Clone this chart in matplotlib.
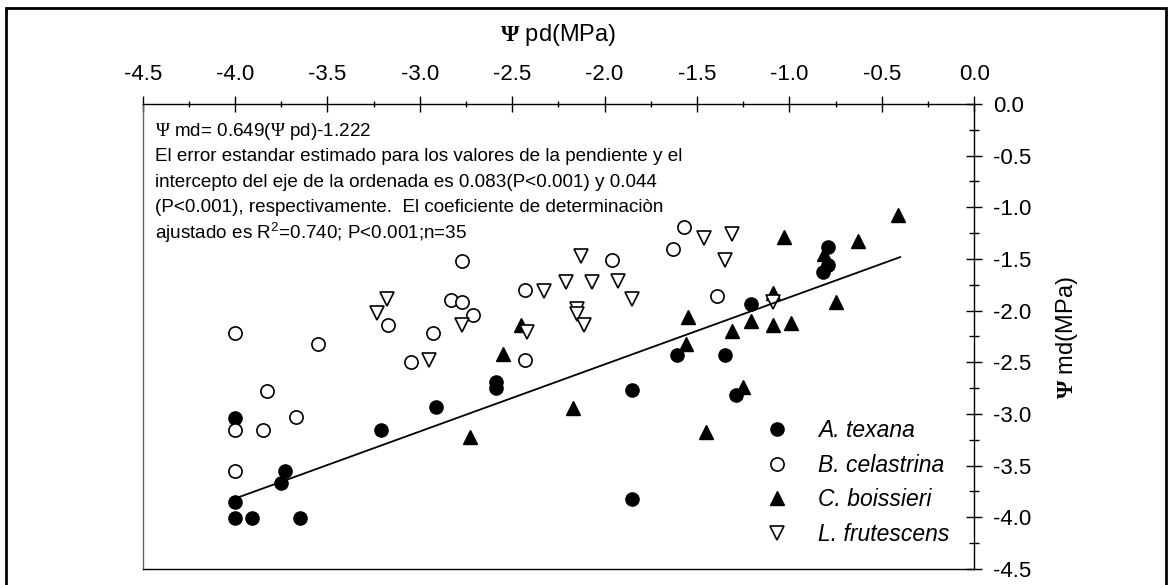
import matplotlib.pyplot as plt
from matplotlib.patches import Rectangle
from matplotlib.ticker import MultipleLocator, FormatStrFormatter

plt.rcParams['font.family'] = 'Liberation Sans'
plt.rcParams['mathtext.fontset'] = 'custom'
plt.rcParams['mathtext.rm'] = 'Liberation Serif'
plt.rcParams['mathtext.bf'] = 'Liberation Serif:bold'
plt.rcParams['mathtext.sf'] = 'Liberation Sans'

# Psi pd (x) and Psi md (y) per species, MPa
texana_pd = [-4.0, -3.21, -2.91, -3.73, -3.75, -4.0, -4.0, -3.91, -3.65, -2.59,
             -2.59, -1.85, -1.61, -1.85, -0.79, -0.79, -0.82, -1.21, -1.35, -1.29]
texana_md = [-3.04, -3.16, -2.93, -3.55, -3.67, -3.85, -4.01, -4.01, -4.01, -2.69,
             -2.75, -2.77, -2.43, -3.82, -1.38, -1.56, -1.63, -1.94, -2.43, -2.82]

celastrina_pd = [-4.0, -3.55, -3.17, -2.93, -3.05, -3.83, -3.67, -4.0, -3.85, -4.0,
                 -2.77, -2.83, -2.77, -2.71, -2.43, -2.43, -1.96, -1.63, -1.57, -1.39]
celastrina_md = [-2.22, -2.32, -2.14, -2.22, -2.50, -2.78, -3.03, -3.16, -3.16, -3.55,
                 -1.52, -1.90, -1.92, -2.04, -1.80, -2.48, -1.51, -1.40, -1.19, -1.86]

boissieri_pd = [-2.45, -2.55, -2.73, -2.17, -1.55, -1.56, -1.45, -1.03, -0.63,
                -0.41, -0.81, -0.75, -1.09, -1.21, -1.09, -0.99, -1.31, -1.25]
boissieri_md = [-2.14, -2.42, -3.22, -2.94, -2.06, -2.32, -3.17, -1.29, -1.33,
                -1.07, -1.45, -1.92, -1.83, -2.10, -2.14, -2.12, -2.20, -2.74]

frutescens_pd = [-3.18, -3.23, -2.95, -2.77, -2.42, -2.33, -2.21, -2.13, -2.07,
                 -1.93, -1.85, -2.15, -2.15, -2.11, -1.46, -1.31, -1.35, -1.09]
frutescens_md = [-1.89, -2.02, -2.48, -2.14, -2.21, -1.81, -1.72, -1.47, -1.72,
                 -1.71, -1.89, -1.98, -2.03, -2.14, -1.30, -1.26, -1.51, -1.92]

# regression line end points
line_pd = [-4.0, -0.4]
line_md = [-3.818, -1.482]

fig = plt.figure(figsize=(11.74, 5.85), dpi=100)
ax = fig.add_axes([0.1216, 0.0274, 0.7081, 0.7949])

ax.plot(texana_pd, texana_md, 'o', ms=9.5, mfc='black', mec='black', label='A. texana')
ax.plot(celastrina_pd, celastrina_md, 'o', ms=9.5, mfc='white', mec='black', mew=1.2,
        label='B. celastrina')
ax.plot(boissieri_pd, boissieri_md, '^', ms=10.5, mfc='black', mec='black', label='C. boissieri')
ax.plot(frutescens_pd, frutescens_md, 'v', ms=10.5, mfc='white', mec='black', mew=1.2,
        label='L. frutescens')
ax.plot(line_pd, line_md, color='black', lw=1.3)

ax.set_xlim(-4.5, 0)
ax.set_ylim(-4.5, 0)
ax.xaxis.tick_top()
ax.yaxis.tick_right()
ax.xaxis.set_major_locator(MultipleLocator(0.5))
ax.xaxis.set_minor_locator(MultipleLocator(0.25))
ax.yaxis.set_major_locator(MultipleLocator(0.5))
ax.yaxis.set_minor_locator(MultipleLocator(0.25))
ax.xaxis.set_major_formatter(FormatStrFormatter('%.1f'))
ax.yaxis.set_major_formatter(FormatStrFormatter('%.1f'))
ax.tick_params(which='major', direction='inout', length=11.5, width=1, labelsize=16, pad=8)
ax.tick_params(axis='x', which='minor', direction='inout', length=5, width=1)
ax.tick_params(axis='y', which='minor', direction='inout', length=7, width=1)
for s in ax.spines.values():
    s.set_linewidth(1.0)
ax.spines['left'].set_color('#666666')

ax.text(0.5, 1.148, r'$\mathbf{\Psi}$ pd(MPa)', transform=ax.transAxes, ha='center', va='center',
        fontsize=17)
ax.text(1.112, 0.497, r'$\mathbf{\Psi}$ md(MPa)', transform=ax.transAxes, ha='center', va='center',
        fontsize=17, rotation=90)

notes = [r'$\Psi$ md= 0.649($\Psi$ pd)-1.222',
         'El error estandar estimado para los valores de la pendiente y el',
         'intercepto del eje de la ordenada es 0.083(P<0.001) y 0.044',
         '(P<0.001), respectivamente.  El coeficiente de determinaciòn',
         r'ajustado es R$^{\mathsf{2}}$=0.740; P<0.001;n=35']
for i, t in enumerate(notes):
    ax.text(0.0148, 0.9404 - i * 0.0544, t, transform=ax.transAxes, ha='left', va='center',
            fontsize=13.6)

ax.legend(loc='lower left', bbox_to_anchor=(0.749, 0.05), frameon=False, handlelength=1,
          handletextpad=1.3, labelspacing=0.5, borderpad=0, borderaxespad=0,
          prop={'style': 'italic', 'size': 16.5})

fig.patches.append(Rectangle((6 / 1174, -0.05), 1160 / 1174, 1.0363, transform=fig.transFigure,
                             fill=False, lw=2, ec='black'))

plt.savefig('out.png', dpi=100)
